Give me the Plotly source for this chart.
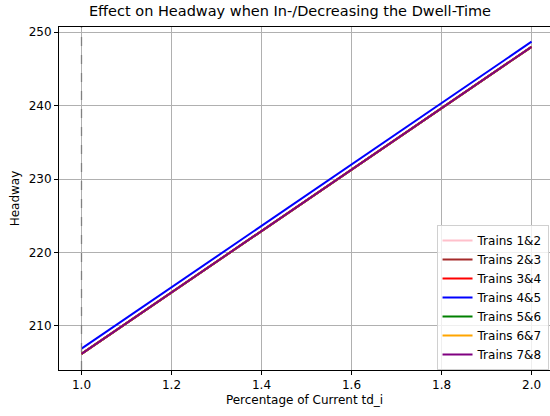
import plotly.graph_objects as go

pct = [1.0, 2.0]
series_names = ["Trains 1&2", "Trains 2&3", "Trains 3&4", "Trains 4&5", "Trains 5&6", "Trains 6&7", "Trains 7&8"]
series_colors = ["pink", "brown", "red", "blue", "green", "orange", "purple"]
series_values = [
    [206.2, 248.0],
    [206.2, 248.0],
    [206.2, 248.0],
    [206.9, 248.7],
    [206.2, 248.0],
    [206.2, 248.0],
    [206.2, 248.0],
]
x_ticks = [1.0, 1.2, 1.4, 1.6, 1.8, 2.0]
y_ticks = [210, 220, 230, 240, 250]

fig = go.Figure()
for name, color, vals in zip(series_names, series_colors, series_values):
    fig.add_trace(go.Scatter(x=pct, y=vals, mode="lines", name=name,
                             line=dict(color=color, width=2)))

fig.add_shape(type="line", xref="x", yref="paper", x0=1.0, x1=1.0, y0=0, y1=1,
              line=dict(color="gray", width=1.3, dash="dash"))

font = "DejaVu Sans"
fig.update_layout(
    width=550, height=416,
    margin=dict(l=59, r=0, t=27, b=46),
    paper_bgcolor="white", plot_bgcolor="white",
    font=dict(family=font, size=12, color="black"),
    title=dict(text="Effect on Headway when In-/Decreasing the Dwell-Time",
               x=290 / 550, xanchor="center", xref="container", y=0.985, yanchor="top",
               font=dict(size=14.5, color="black")),
    showlegend=True,
    legend=dict(x=0.997, y=0.0, xanchor="right", yanchor="bottom",
                bgcolor="rgba(255,255,255,0.8)", bordercolor="#d0d0d0", borderwidth=1,
                font=dict(size=12), tracegroupgap=0, itemwidth=30),
)
fig.update_xaxes(range=[0.95, 2.041], tickvals=x_ticks, ticktext=[f"{v:.1f}" for v in x_ticks],
                 showgrid=True, gridcolor="#b0b0b0", gridwidth=1,
                 showline=True, linecolor="black", linewidth=1, mirror=True,
                 ticks="outside", ticklen=4, tickcolor="black", zeroline=False,
                 title=dict(text="Percentage of Current td_i", font=dict(size=12), standoff=4))
fig.update_yaxes(range=[204.0, 250.7], tickvals=y_ticks,
                 showgrid=True, gridcolor="#b0b0b0", gridwidth=1,
                 showline=True, linecolor="black", linewidth=1, mirror=True,
                 ticks="outside", ticklen=4, tickcolor="black", zeroline=False,
                 title=dict(text="Headway", font=dict(size=12), standoff=6))

fig.write_html("out.html")
